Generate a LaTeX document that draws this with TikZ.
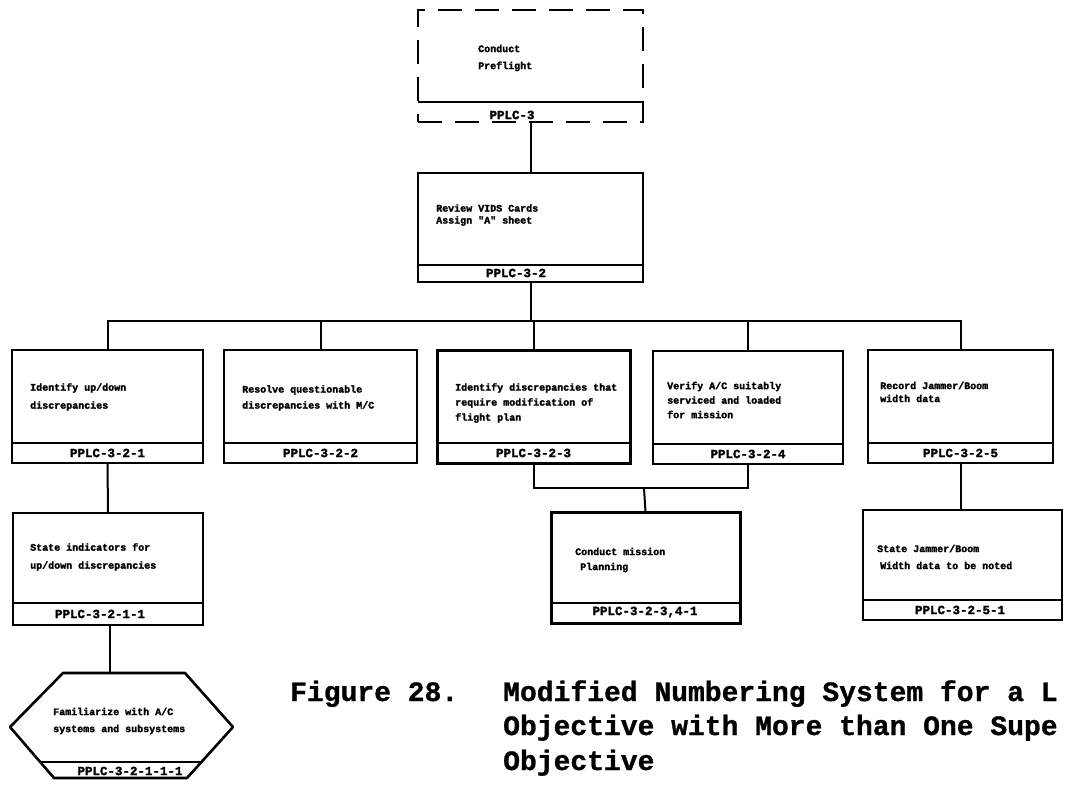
\documentclass[tikz,border=0pt]{standalone}
\usepackage{fontspec}
\newfontfamily\heavy{Liberation Mono}[FakeBold=2]
\newfontfamily\capfont{Liberation Mono}[FakeBold=1]
\usetikzlibrary{calc}
\begin{document}
\begin{tikzpicture}[x=1pt,y=-1pt,
  taskbox/.style={draw, line width=2.4pt, rectangle, anchor=north west, inner sep=0pt, outer sep=0pt},
  dashbox/.style={draw, line width=2pt, dash pattern=on 24pt off 13pt, rectangle, anchor=north west, inner sep=0pt, outer sep=0pt},
  divider/.style={line width=2.2pt},
  conn/.style={line width=2pt},
  txt/.style={font=\heavy\bfseries\fontsize{10}{16}\selectfont, align=left, anchor=west, inner sep=0pt},
  lab/.style={font=\heavy\bfseries\fontsize{12.5}{13}\selectfont, inner sep=0pt},
  captext/.style={font=\capfont\bfseries\fontsize{28}{30}\selectfont, inner sep=0pt, anchor=base west}]
\useasboundingbox (0,0) rectangle (1065,792);

% top (dashed) box
\node[dashbox, minimum width=225pt, minimum height=112pt] (pre) at (418,10) {};
\draw[divider] ([yshift=20pt]pre.south west) -- ([yshift=20pt]pre.south east);
\node[lab, fill=white, inner sep=2pt] (prel) at (512,115) {PPLC-3};
\node[txt, font=\heavy\bfseries\fontsize{10}{17}\selectfont] (pret) at (478,58) {Conduct\\Preflight};

% second box
\node[taskbox, minimum width=225pt, minimum height=109pt] (rev) at (418,173) {};
\draw[divider] ([yshift=17pt]rev.south west) -- ([yshift=17pt]rev.south east);
\node[lab] (revl) at (516,273) {PPLC-3-2};
\node[txt, font=\heavy\bfseries\fontsize{10}{12}\selectfont] (revt) at (436,215) {Review VIDS Cards\\Assign "A" sheet};

% row of five boxes
\node[taskbox, minimum width=191pt, minimum height=113pt] (b1) at (12,350) {};
\node[taskbox, minimum width=193pt, minimum height=113pt] (b2) at (224,350) {};
\node[taskbox, line width=3pt, minimum width=193pt, minimum height=113pt] (b3) at (437,350) {};
\node[taskbox, minimum width=190pt, minimum height=113pt] (b4) at (653,351) {};
\node[taskbox, minimum width=185pt, minimum height=113pt] (b5) at (868,350) {};
\foreach \b in {b1,b2,b3,b4,b5}{
  \draw[divider] ([yshift=20pt]\b.south west) -- ([yshift=20pt]\b.south east);
}
\node[lab] (b1l) at ([yshift=10pt]b1.south) {PPLC-3-2-1};
\node[lab] (b2l) at ([yshift=10pt]b2.south) {PPLC-3-2-2};
\node[lab] (b3l) at ([yshift=10pt]b3.south) {PPLC-3-2-3};
\node[lab] (b4l) at ([yshift=10pt]b4.south) {PPLC-3-2-4};
\node[lab] (b5l) at ([yshift=10pt]b5.south) {PPLC-3-2-5};
\node[txt, font=\heavy\bfseries\fontsize{10}{18}\selectfont] (b1t) at (30,397) {Identify up/down\\discrepancies};
\node[txt] (b2t) at (242,398) {Resolve questionable\\discrepancies with M/C};
\node[txt, font=\heavy\bfseries\fontsize{10}{15}\selectfont] (b3t) at (455,403) {Identify discrepancies that\\require modification of\\flight plan};
\node[txt, font=\heavy\bfseries\fontsize{10}{14.5}\selectfont] (b4t) at (667,400) {Verify A/C suitably\\serviced and loaded\\for mission};
\node[txt, font=\heavy\bfseries\fontsize{10}{13}\selectfont] (b5t) at (880,392) {Record Jammer/Boom\\width data};

% third level boxes
\node[taskbox, minimum width=190pt, minimum height=112pt] (c1) at (13,513) {};
\node[taskbox, line width=3pt, minimum width=189pt, minimum height=111pt] (c2) at (551,512) {};
\node[taskbox, minimum width=199pt, minimum height=110pt] (c3) at (863,510) {};
\draw[divider] ([yshift=22pt]c1.south west) -- ([yshift=22pt]c1.south east);
\draw[divider] ([yshift=20pt]c2.south west) -- ([yshift=20pt]c2.south east);
\draw[divider] ([yshift=20pt]c3.south west) -- ([yshift=20pt]c3.south east);
\node[lab] (c1l) at (100,614) {PPLC-3-2-1-1};
\node[lab] (c2l) at (645,612) {PPLC-3-2-3,4-1};
\node[lab] (c3l) at (960,610) {PPLC-3-2-5-1};
\node[txt, font=\heavy\bfseries\fontsize{10}{18}\selectfont] (c1t) at (30,557) {State indicators for\\up/down discrepancies};
\node[txt, font=\heavy\bfseries\fontsize{10}{15}\selectfont] (c2t) at (575,560) {Conduct mission\\\hspace*{5pt}Planning};
\node[txt, font=\heavy\bfseries\fontsize{10}{17}\selectfont] (c3t) at (877,557) {State Jammer/Boom\\\hspace*{3pt}Width data to be noted};

% hexagon
\coordinate (h1) at (63,673);
\coordinate (h2) at (185,673);
\coordinate (h3) at (233,727);
\coordinate (h4) at (187,778);
\coordinate (h5) at (54,778);
\coordinate (h6) at (10,727);
\coordinate (hx) at (110,673);
\draw[line width=2.6pt, line join=round] (h1) -- (h2) -- (h3) -- (h4) -- (h5) -- (h6) -- cycle;
\coordinate (hdl) at (40,762);
\coordinate (hdr) at (201,762);
\draw[divider] (hdl) -- (hdr);
\node[txt, font=\heavy\bfseries\fontsize{10}{17}\selectfont] (hext) at (53,721) {Familiarize with A/C\\systems and subsystems};
\node[lab] (hexl) at (130,771) {PPLC-3-2-1-1-1};

% connectors
\coordinate (bus) at (530,321);
\coordinate (j) at (644,488);
\draw[conn] (pre.south) -- (rev.north);
\draw[conn] (rev.south) -- (rev.south |- bus);
\draw[conn] (b1.north) -- (b1.north |- bus) -- (b5.north |- bus) -- (b5.north);
\draw[conn] (b2.north) -- (b2.north |- bus);
\draw[conn] (b3.north) -- (b3.north |- bus);
\draw[conn] (b4.north) -- (b4.north |- bus);
\draw[conn] (b1.south) -- (c1.north);
\draw[conn] (b3.south) |- (j) -| (b4.south);
\draw[conn] (j) -- (c2.north);
\draw[conn] (b5.south) -- (b5.south |- c3.north);
\draw[conn] (c1.south -| hx) -- (hx);

% caption
\node[captext] (fig) at (290,701) {Figure 28.};
\node[captext] (cap1) at (503,701) {Modified Numbering System for a L};
\node[captext] (cap2) at (503,735) {Objective with More than One Supe};
\node[captext] (cap3) at (503,770) {Objective};
\end{tikzpicture}
\end{document}
